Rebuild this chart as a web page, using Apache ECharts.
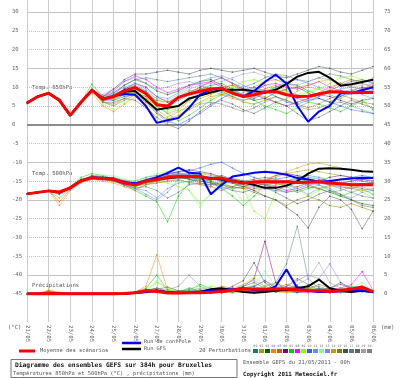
<!DOCTYPE html>
<html>
<head>
<meta charset="utf-8">
<script src="https://cdn.jsdelivr.net/npm/echarts@6/dist/echarts.min.js"></script>
<style>
  html, body { margin: 0; padding: 0; background: #fff; }
  #chart { width: 400px; height: 378px; }
</style>
</head>
<body>
<div id="chart"></div>
<script>
// échéances (heures depuis le 21/05/2011 00h)
const hours = [0, 12, 24, 36, 48, 60, 72, 84, 96, 108, 120, 132, 144, 156, 168, 180, 192,
  204, 216, 228, 240, 252, 264, 276, 288, 300, 312, 324, 336, 348, 360, 372, 384];
const dateLabels = ['21/05', '22/05', '23/05', '24/05', '25/05', '26/05', '27/05', '28/05', '29/05',
  '30/05', '31/05', '01/06', '02/06', '03/06', '04/06', '05/06', '06/06'];

const yDotted = [25, 20, 10, 5, -5, -15, -25, -30, -35];
const ySolid = [30, 15, -10, -20, -40];
const yThick = [0];
const precipBase = -45; // 0 mm sur l'échelle de droite

const memberColors = ['#008080', '#a0a000', '#006400', '#ff8000', '#d06000', '#800080', '#00d000',
  '#ff00ff', '#80ff00', '#3060ff', '#6090ff', '#80ff80', '#8080ff', '#c0a000', '#808000',
  '#405060', '#508080', '#606060', '#a0a0a0', '#808080'];

// Temp. 850hPa
const t850Mean = [5.8, 7.5, 8.4, 6.5, 2.5, 6.0, 9.2, 6.8, 7.5, 9.0, 9.9, 8.3, 5.3, 5.0, 7.3, 8.2, 8.9, 9.5, 9.7, 8.4, 7.5, 8.0, 8.7, 8.8, 8.0, 7.5, 7.6, 8.2, 8.8, 8.7, 8.5, 8.6, 8.6];
const t850Control = [5.8, 7.5, 8.4, 6.5, 2.5, 6.0, 9.2, 6.8, 7.6, 8.2, 8.0, 5.0, 0.5, 1.2, 1.8, 4.5, 8.0, 9.3, 9.8, 8.4, 7.5, 9.0, 11.4, 13.3, 11.0, 5.0, 0.8, 3.5, 5.0, 8.4, 8.4, 9.2, 10.0];
const t850Gfs = [5.8, 7.5, 8.4, 6.5, 2.5, 6.0, 9.2, 6.8, 7.5, 8.8, 9.0, 6.5, 4.0, 4.5, 5.0, 7.0, 7.8, 8.6, 9.3, 9.3, 9.3, 9.0, 8.5, 9.3, 10.8, 12.8, 13.8, 14.1, 12.5, 10.4, 10.8, 11.4, 12.0];
const t850Members = [
  [5.7, 7.4, 8.5, 6.7, 2.6, 6.2, 9.4, 7.2, 8.0, 9.5, 10.5, 9.0, 6.0, 4.5, 6.5, 8.0, 9.5, 10.5, 11.0, 9.5, 8.0, 7.0, 8.5, 10.0, 11.0, 10.5, 9.0, 8.0, 9.0, 10.5, 11.5, 12.0, 11.0],
  [5.8, 7.6, 8.3, 6.4, 2.3, 5.8, 9.0, 6.5, 7.0, 8.0, 9.0, 7.5, 4.0, 2.0, 3.5, 5.0, 7.0, 8.0, 9.5, 10.5, 9.0, 8.0, 7.5, 6.0, 7.0, 9.0, 10.0, 9.5, 8.0, 7.0, 8.5, 9.5, 10.0],
  [5.9, 7.5, 8.4, 6.6, 2.4, 6.1, 9.5, 7.5, 8.5, 10.5, 12.0, 11.0, 9.0, 8.0, 9.0, 10.5, 11.5, 12.0, 10.5, 9.0, 7.5, 6.5, 7.0, 8.5, 9.5, 10.0, 8.5, 7.0, 6.0, 7.5, 9.0, 10.0, 9.5],
  [5.8, 7.4, 8.6, 6.8, 2.7, 6.0, 8.5, 5.0, 3.5, 5.5, 7.5, 6.0, 3.0, 1.5, 2.5, 4.5, 6.0, 7.5, 8.0, 7.0, 6.5, 7.5, 9.0, 9.5, 8.5, 7.0, 6.0, 7.5, 9.5, 11.0, 10.0, 9.5, 11.0],
  [5.7, 7.5, 8.3, 6.3, 2.4, 5.9, 9.1, 6.0, 5.5, 7.0, 8.5, 7.5, 5.5, 4.0, 5.0, 6.5, 8.0, 9.0, 10.0, 10.5, 9.5, 8.5, 9.5, 10.5, 9.0, 8.0, 7.5, 8.5, 10.0, 11.0, 12.0, 11.5, 12.0],
  [5.8, 7.6, 8.5, 6.6, 2.5, 6.3, 9.6, 7.0, 7.5, 9.5, 11.0, 10.0, 7.5, 6.0, 7.0, 8.5, 10.0, 11.5, 12.5, 11.0, 9.5, 8.0, 7.0, 6.0, 5.0, 6.0, 7.0, 8.0, 7.5, 6.5, 5.5, 6.5, 7.0],
  [5.8, 7.3, 8.4, 6.5, 2.6, 6.1, 10.8, 7.5, 6.5, 8.0, 9.5, 8.0, 5.0, 3.0, 1.0, 2.5, 4.5, 6.5, 8.0, 9.0, 8.0, 6.5, 5.0, 4.0, 3.0, 4.5, 6.0, 5.5, 4.5, 3.5, 5.0, 6.5, 4.0],
  [5.9, 7.5, 8.5, 6.5, 2.6, 6.0, 9.3, 7.5, 9.0, 11.5, 13.0, 12.0, 10.0, 8.5, 9.5, 10.5, 11.0, 11.5, 10.0, 8.5, 8.0, 9.0, 10.5, 11.0, 10.0, 9.5, 10.5, 11.5, 10.0, 9.0, 8.5, 9.5, 10.5],
  [5.8, 7.5, 8.3, 6.4, 2.3, 5.9, 9.2, 6.0, 5.0, 7.0, 9.0, 8.5, 7.0, 5.0, 3.5, 4.5, 6.0, 7.0, 8.5, 10.0, 11.5, 12.0, 11.0, 9.5, 8.5, 7.5, 8.5, 9.5, 11.0, 12.5, 13.0, 12.0, 11.5],
  [5.7, 7.5, 8.4, 6.5, 2.5, 6.0, 9.1, 6.5, 6.5, 7.5, 8.0, 6.5, 3.5, 1.0, 0.0, 1.5, 3.0, 5.0, 7.0, 8.5, 9.5, 10.0, 9.0, 7.5, 6.0, 5.5, 6.5, 7.0, 6.0, 5.0, 4.0, 3.5, 3.0],
  [5.8, 7.6, 8.5, 6.7, 2.6, 6.2, 9.3, 7.0, 8.5, 10.0, 11.0, 9.5, 7.5, 7.0, 8.5, 10.0, 11.5, 12.5, 13.0, 12.0, 10.5, 9.5, 9.0, 10.0, 11.5, 12.0, 11.0, 10.0, 9.0, 8.5, 9.5, 8.0, 7.0],
  [5.8, 7.4, 8.4, 6.4, 2.5, 5.9, 9.6, 5.5, 4.0, 6.0, 8.0, 7.0, 4.5, 3.5, 4.5, 6.0, 7.5, 8.5, 9.0, 8.0, 6.5, 5.0, 4.0, 5.5, 7.0, 8.0, 9.0, 9.5, 8.0, 6.0, 5.0, 6.0, 7.5],
  [5.9, 7.5, 8.5, 6.6, 2.6, 6.1, 9.4, 8.0, 9.5, 11.5, 12.5, 11.0, 9.5, 10.0, 11.0, 11.5, 10.5, 9.5, 8.5, 7.5, 6.5, 7.0, 8.5, 9.5, 8.0, 7.0, 6.5, 7.5, 8.5, 9.5, 10.0, 9.5, 9.0],
  [5.7, 7.5, 8.3, 6.4, 2.5, 6.0, 9.0, 6.5, 7.0, 8.0, 8.5, 7.0, 5.0, 3.0, 4.0, 6.5, 8.5, 9.0, 8.0, 7.5, 8.5, 10.0, 11.5, 12.0, 11.0, 10.0, 10.5, 11.5, 12.0, 11.0, 10.5, 11.0, 12.5],
  [5.8, 7.5, 8.4, 6.5, 2.4, 6.0, 9.2, 7.0, 7.5, 8.5, 9.5, 8.0, 6.5, 6.0, 7.5, 9.0, 9.5, 10.0, 9.0, 7.5, 6.0, 5.5, 6.5, 7.5, 6.5, 5.5, 4.5, 5.5, 7.0, 8.0, 7.0, 6.0, 5.5],
  [5.8, 7.5, 8.5, 6.6, 2.5, 6.1, 9.2, 7.5, 9.5, 12.0, 13.5, 13.5, 14.0, 14.5, 14.0, 13.5, 14.5, 15.0, 14.5, 14.0, 14.5, 15.0, 14.0, 13.0, 12.5, 13.5, 14.5, 15.5, 15.0, 14.0, 13.5, 14.5, 15.5],
  [5.9, 7.6, 8.4, 6.5, 2.6, 6.0, 9.3, 7.0, 8.0, 10.5, 12.0, 12.5, 12.0, 11.5, 12.0, 12.5, 13.0, 13.5, 12.5, 11.0, 10.0, 11.0, 12.5, 13.5, 13.0, 12.0, 11.5, 12.5, 13.5, 13.0, 12.0, 11.0, 10.0],
  [5.8, 7.4, 8.3, 6.4, 2.4, 5.9, 9.0, 6.0, 6.0, 7.0, 6.5, 4.5, 2.0, 0.0, -1.0, 1.0, 3.5, 5.5, 6.5, 5.5, 4.0, 3.0, 4.5, 6.0, 5.0, 3.0, 1.0, 2.0, 3.5, 5.0, 6.5, 5.5, 4.5],
  [5.7, 7.5, 8.4, 6.5, 2.5, 6.0, 9.2, 6.8, 7.5, 9.0, 10.0, 9.0, 7.0, 6.5, 8.0, 9.5, 10.5, 11.0, 11.5, 12.5, 13.5, 14.0, 13.0, 12.0, 11.0, 10.5, 11.5, 12.5, 12.0, 11.0, 10.0, 10.5, 11.0],
  [5.8, 7.5, 8.4, 6.5, 2.5, 6.0, 9.2, 6.2, 5.0, 6.5, 8.0, 6.0, 3.0, 0.5, 2.0, 4.0, 5.5, 6.0, 5.5, 4.5, 3.5, 4.5, 6.0, 7.5, 6.5, 5.0, 4.0, 4.5, 5.5, 6.0, 5.0, 4.0, 3.0]
];

// Temp. 500hPa
const t500Mean = [-18.4, -18.0, -17.6, -17.9, -16.8, -14.9, -14.1, -14.3, -14.5, -15.5, -16.0, -15.0, -14.6, -14.0, -13.8, -13.8, -13.8, -14.4, -14.2, -15.0, -15.6, -15.2, -15.2, -15.2, -15.2, -15.4, -15.3, -15.2, -15.5, -15.7, -16.0, -15.9, -16.0];
const t500Control = [-18.4, -18.0, -17.6, -18.0, -16.8, -14.8, -14.0, -14.2, -14.4, -15.3, -15.6, -14.8, -14.0, -12.8, -11.4, -12.8, -13.0, -18.5, -16.0, -13.8, -13.3, -12.8, -12.5, -12.8, -13.3, -14.2, -14.6, -15.2, -15.0, -14.6, -14.3, -14.1, -14.2];
const t500Gfs = [-18.4, -18.0, -17.6, -18.0, -16.8, -14.9, -14.1, -14.3, -14.5, -15.4, -15.9, -15.0, -14.6, -14.2, -14.0, -14.0, -14.0, -14.2, -14.6, -15.0, -15.4, -16.0, -16.8, -16.8, -16.2, -15.0, -13.0, -11.7, -11.6, -11.7, -12.0, -12.4, -12.5];
const t500Members = [
  [-18.4, -18.0, -17.5, -18.5, -16.5, -14.5, -13.8, -14.0, -14.0, -14.8, -15.0, -14.0, -13.5, -13.0, -12.8, -13.2, -13.5, -14.0, -13.5, -14.5, -15.0, -14.5, -14.0, -14.5, -15.0, -14.0, -13.5, -14.0, -15.0, -15.5, -15.0, -14.5, -15.0],
  [-18.4, -18.1, -17.7, -19.5, -17.0, -15.0, -14.0, -14.2, -14.8, -16.0, -17.0, -16.0, -15.0, -14.5, -14.0, -13.5, -13.0, -13.5, -14.0, -15.5, -16.5, -16.0, -15.0, -14.0, -13.0, -12.5, -12.0, -12.5, -13.0, -13.5, -14.0, -14.5, -15.0],
  [-18.4, -18.0, -17.6, -18.0, -16.8, -14.8, -13.5, -13.8, -14.2, -15.0, -16.5, -15.5, -14.5, -13.5, -13.5, -14.0, -14.5, -15.0, -16.0, -17.0, -16.5, -15.5, -16.0, -17.0, -18.0, -17.5, -16.5, -17.0, -18.0, -19.0, -20.0, -21.0, -21.5],
  [-18.4, -17.9, -17.5, -21.5, -17.5, -15.5, -14.5, -15.0, -15.5, -16.5, -17.5, -16.0, -15.5, -15.0, -14.5, -15.5, -16.0, -16.5, -15.5, -15.0, -16.0, -17.5, -17.0, -16.0, -15.5, -15.0, -16.0, -17.0, -16.5, -16.0, -17.0, -17.5, -17.0],
  [-18.4, -18.0, -17.6, -20.5, -17.2, -15.2, -14.3, -14.5, -15.0, -16.0, -16.5, -15.5, -15.0, -14.0, -13.5, -14.5, -15.5, -16.0, -15.5, -16.5, -17.0, -16.5, -15.5, -15.5, -16.0, -16.5, -15.5, -15.0, -15.5, -16.5, -17.0, -16.0, -15.5],
  [-18.4, -18.1, -17.7, -18.2, -17.0, -15.0, -14.2, -14.4, -14.6, -15.2, -15.5, -14.5, -13.8, -13.2, -12.5, -12.0, -12.5, -13.0, -14.0, -14.5, -15.5, -16.0, -15.0, -13.5, -13.0, -13.5, -14.5, -15.0, -14.0, -13.5, -14.0, -15.0, -15.5],
  [-18.4, -18.0, -17.5, -18.0, -16.5, -14.0, -13.0, -13.5, -14.5, -16.0, -17.5, -19.0, -20.5, -25.8, -19.0, -15.5, -14.0, -15.0, -17.0, -19.0, -21.5, -19.0, -16.0, -15.5, -16.5, -18.0, -17.0, -16.0, -17.5, -19.0, -18.0, -17.0, -18.5],
  [-18.4, -18.0, -17.6, -17.9, -16.7, -14.6, -13.9, -14.0, -14.3, -15.0, -15.8, -15.0, -14.0, -13.5, -13.0, -13.5, -14.0, -14.5, -14.0, -14.5, -15.0, -15.5, -16.0, -16.5, -17.5, -17.0, -16.0, -15.5, -16.0, -15.5, -15.0, -14.5, -15.0],
  [-18.4, -18.0, -17.6, -18.3, -16.9, -15.0, -14.0, -14.3, -14.8, -15.8, -16.5, -15.5, -15.0, -15.5, -16.5, -17.5, -21.0, -18.5, -16.0, -15.5, -17.0, -23.0, -25.0, -18.0, -16.0, -17.0, -19.0, -17.5, -16.0, -15.5, -16.5, -18.0, -19.5],
  [-18.4, -18.0, -17.6, -18.0, -16.8, -14.9, -14.1, -14.3, -14.5, -15.2, -15.5, -14.8, -14.0, -13.0, -12.5, -12.2, -11.5, -10.5, -10.0, -11.5, -13.0, -14.0, -15.0, -14.5, -14.0, -13.5, -14.0, -14.5, -15.0, -14.5, -14.0, -13.5, -14.0],
  [-18.4, -18.1, -17.7, -18.6, -17.3, -15.2, -14.4, -14.6, -15.0, -16.2, -17.0, -17.5, -19.5, -17.0, -15.5, -15.0, -14.5, -15.5, -17.0, -16.5, -15.5, -15.0, -14.5, -15.0, -16.0, -17.0, -18.5, -17.0, -16.0, -16.5, -17.0, -16.5, -17.5],
  [-18.4, -18.0, -17.6, -17.8, -16.5, -14.5, -13.8, -13.5, -13.5, -14.5, -15.0, -14.0, -13.0, -12.5, -14.0, -17.5, -22.0, -18.0, -15.0, -17.0, -20.5, -18.0, -15.5, -14.5, -15.0, -15.5, -14.5, -14.0, -14.5, -15.5, -14.5, -14.0, -15.0],
  [-18.4, -18.0, -17.5, -18.1, -16.8, -14.8, -14.0, -14.2, -14.4, -15.5, -17.0, -18.5, -20.0, -18.0, -14.5, -13.0, -13.5, -14.0, -15.0, -15.5, -16.0, -16.5, -17.0, -17.5, -18.0, -16.5, -15.5, -16.0, -17.0, -18.5, -19.5, -18.0, -17.5],
  [-18.4, -18.0, -17.6, -18.0, -16.9, -15.0, -14.2, -14.4, -14.6, -15.3, -15.8, -14.8, -14.2, -13.8, -13.5, -13.8, -14.2, -14.5, -14.0, -14.5, -15.0, -15.5, -14.5, -13.5, -12.5, -11.5, -10.5, -10.2, -10.8, -11.5, -12.0, -12.5, -12.5],
  [-18.4, -18.0, -17.6, -18.1, -16.8, -14.9, -14.2, -14.5, -14.9, -15.8, -16.2, -15.3, -14.8, -14.2, -14.0, -14.5, -15.0, -15.5, -16.0, -16.5, -17.0, -18.0, -19.0, -20.0, -21.5, -20.0, -19.0, -20.0, -21.5, -22.0, -21.0, -22.0, -23.0],
  [-18.4, -18.0, -17.6, -17.9, -16.7, -14.8, -14.0, -14.2, -14.5, -15.3, -15.8, -14.8, -14.3, -13.6, -13.2, -13.5, -14.0, -14.5, -15.0, -15.5, -16.5, -17.5, -19.0, -20.0, -22.0, -24.0, -27.5, -22.0, -19.0, -20.0, -22.5, -27.7, -23.0],
  [-18.4, -18.0, -17.7, -18.4, -17.0, -15.0, -14.3, -14.6, -15.0, -16.0, -16.8, -16.5, -17.5, -19.5, -18.0, -16.0, -15.5, -16.0, -15.0, -14.5, -15.0, -15.5, -16.0, -15.5, -15.0, -14.5, -15.0, -15.5, -16.0, -17.0, -18.0, -19.0, -19.5],
  [-18.4, -18.0, -17.5, -18.2, -16.6, -14.7, -14.0, -14.3, -14.6, -15.5, -16.0, -15.5, -15.0, -14.5, -14.0, -14.5, -15.0, -15.5, -16.5, -17.5, -18.0, -17.0, -16.5, -18.0, -19.5, -21.0, -20.0, -18.5, -17.5, -18.5, -20.0, -21.5, -22.0],
  [-18.4, -18.0, -17.6, -17.8, -16.6, -14.8, -14.0, -14.1, -14.3, -15.0, -15.5, -14.5, -14.0, -13.5, -13.2, -13.0, -12.8, -13.2, -13.8, -14.2, -14.8, -15.2, -15.8, -16.2, -15.5, -14.8, -14.5, -15.0, -15.8, -16.2, -15.5, -15.0, -15.5],
  [-18.4, -18.0, -17.6, -18.0, -16.8, -14.9, -14.1, -14.3, -14.6, -15.4, -16.2, -15.8, -15.5, -15.0, -14.8, -15.2, -15.8, -16.5, -17.5, -16.5, -15.5, -16.0, -17.0, -17.5, -16.5, -15.5, -16.0, -17.0, -18.0, -17.5, -16.5, -17.0, -17.5]
];

// Précipitations (mm)
const rrMean = [0, 0, 0.1, 0, 0, 0, 0, 0, 0, 0.1, 0.3, 0.8, 0.6, 0.2, 0.2, 0.3, 0.3, 0.4, 0.6, 1.0, 1.3, 1.3, 1.2, 1.3, 1.3, 1.1, 0.9, 0.8, 0.6, 0.9, 1.3, 1.8, 0.5];
const rrControl = [0, 0, 0.2, 0, 0, 0, 0, 0, 0, 0, 0.3, 0.5, 0.8, 0.3, 0.2, 0.3, 0.5, 0.8, 1.0, 1.2, 1.5, 1.0, 0.8, 2.0, 6.5, 1.5, 0.8, 0.5, 0.5, 0.8, 1.0, 0.8, 0.5];
const rrGfs = [0, 0, 0.2, 0, 0, 0, 0, 0, 0, 0, 0.3, 0.5, 0.8, 0.5, 0.3, 0.3, 0.5, 1.2, 1.5, 1.0, 0.5, 0.3, 0.5, 0.8, 1.0, 1.5, 2.0, 3.8, 1.5, 0.8, 0.5, 0.8, 0.5];
const rrMembers = [
  [0, 0, 0.5, 0.2, 0, 0, 0, 0, 0, 0.2, 0.5, 1.0, 1.5, 0.5, 0.2, 0.5, 1.0, 0.5, 0.3, 1.0, 1.5, 2.0, 1.0, 0.5, 1.5, 2.0, 1.0, 0.5, 0.5, 1.0, 2.0, 1.5, 0.5],
  [0, 0, 0.8, 0.3, 0, 0, 0, 0, 0, 0, 0.2, 0.5, 1.0, 0.3, 0, 0.2, 0.5, 1.0, 0.5, 0.2, 0.5, 1.0, 2.0, 3.0, 1.5, 0.5, 0.5, 1.0, 1.5, 0.5, 0.3, 1.0, 0.5],
  [0, 0, 0.3, 0, 0, 0, 0, 0, 0, 0, 0.3, 1.2, 0.8, 0.2, 0.5, 1.5, 0.8, 0.3, 0.5, 1.5, 1.0, 0.5, 0.8, 1.2, 0.6, 0.3, 0.8, 1.5, 1.0, 0.5, 0.8, 1.2, 0.5],
  [0, 0, 1.0, 0.4, 0, 0, 0, 0, 0, 0, 0.5, 2.0, 10.4, 1.0, 0.3, 0.5, 0.8, 0.5, 0.3, 0.5, 0.8, 1.5, 1.0, 0.5, 0.3, 0.8, 1.5, 1.0, 0.5, 0.3, 0.8, 1.5, 0.5],
  [0, 0, 0.6, 0.2, 0, 0, 0, 0, 0, 0, 0.2, 0.8, 1.5, 0.5, 0.2, 0.3, 0.5, 1.0, 2.0, 1.5, 0.5, 0.3, 0.5, 1.5, 2.5, 1.5, 0.8, 0.5, 1.0, 1.5, 1.0, 2.0, 1.0],
  [0, 0, 0.2, 0, 0, 0, 0, 0, 0, 0, 0.2, 0.5, 0.8, 0.3, 0.2, 0.5, 0.3, 0.2, 0.5, 1.0, 2.0, 4.0, 14.0, 3.0, 1.0, 0.5, 0.8, 0.5, 0.3, 0.5, 1.0, 0.8, 0.5],
  [0, 0, 0.3, 0.1, 0, 0, 0, 0, 0, 0, 0.5, 1.5, 5.0, 1.0, 0.5, 1.0, 2.5, 1.5, 0.8, 0.5, 1.0, 1.5, 0.8, 0.5, 1.0, 2.0, 1.5, 1.0, 0.5, 0.8, 1.5, 1.0, 0.5],
  [0, 0, 0.2, 0, 0, 0, 0, 0, 0, 0, 0.1, 0.3, 0.5, 0.3, 0.2, 0.3, 0.5, 0.3, 0.5, 0.8, 0.5, 0.3, 0.5, 1.0, 0.8, 0.5, 0.3, 0.5, 1.0, 1.5, 2.5, 5.9, 1.0],
  [0, 0, 0.4, 0.2, 0, 0, 0, 0, 0, 0, 0.3, 1.0, 3.0, 1.5, 0.8, 0.5, 1.0, 2.0, 1.5, 1.0, 2.5, 4.5, 2.0, 1.0, 0.5, 1.0, 1.5, 0.8, 0.5, 1.0, 2.0, 1.5, 1.0],
  [0, 0, 0.2, 0, 0, 0, 0, 0, 0, 0, 0.2, 0.5, 0.8, 0.5, 0.3, 0.2, 0.5, 1.0, 0.8, 0.5, 1.0, 2.0, 3.5, 1.5, 0.8, 0.5, 1.0, 0.8, 0.5, 0.3, 0.5, 0.8, 0.3],
  [0, 0, 0.3, 0.1, 0, 0, 0, 0, 0, 0, 0.2, 0.6, 1.0, 0.4, 0.2, 0.3, 0.5, 0.8, 1.5, 1.0, 0.5, 0.8, 1.0, 2.0, 6.3, 2.0, 0.8, 0.5, 0.3, 0.5, 0.8, 0.5, 0.3],
  [0, 0, 0.3, 0.1, 0, 0, 0, 0, 0, 0, 0.3, 1.0, 3.5, 1.0, 0.5, 1.5, 2.0, 1.5, 1.0, 0.8, 1.5, 2.5, 6.0, 2.0, 1.0, 0.8, 1.5, 1.0, 0.5, 1.0, 1.5, 3.0, 1.0],
  [0, 0, 0.2, 0, 0, 0, 0, 0, 0, 0, 0.2, 0.5, 1.0, 0.5, 0.3, 0.5, 0.8, 0.5, 0.3, 0.5, 1.0, 0.8, 0.5, 1.0, 2.0, 3.5, 5.0, 4.0, 8.0, 3.0, 1.0, 0.8, 0.5],
  [0, 0, 0.9, 0.3, 0, 0, 0, 0, 0, 0, 0.3, 0.8, 1.2, 0.5, 0.3, 0.5, 0.8, 0.5, 0.3, 0.5, 0.8, 1.0, 1.5, 1.0, 0.8, 1.2, 1.5, 1.0, 0.8, 0.5, 0.8, 1.0, 0.5],
  [0, 0, 0.5, 0.2, 0, 0, 0, 0, 0, 0, 0.2, 0.5, 0.8, 0.3, 0.2, 0.4, 0.6, 0.4, 0.8, 1.5, 1.0, 0.8, 1.2, 1.5, 1.0, 0.8, 1.5, 2.5, 1.5, 1.0, 0.8, 1.2, 0.8],
  [0, 0, 0.3, 0.1, 0, 0, 0, 0, 0, 0, 0.3, 0.8, 1.0, 0.5, 0.8, 1.0, 0.5, 0.3, 0.8, 2.0, 3.5, 8.3, 3.0, 1.0, 1.5, 2.0, 1.0, 0.8, 1.5, 3.0, 1.5, 0.8, 0.5],
  [0, 0, 0.2, 0, 0, 0, 0, 0, 0, 0, 0.2, 0.6, 1.0, 0.5, 0.3, 0.5, 0.8, 0.5, 0.3, 0.8, 1.5, 1.0, 0.8, 3.0, 8.0, 18.0, 4.0, 1.5, 1.0, 0.8, 1.0, 1.5, 0.8],
  [0, 0, 0.4, 0.2, 0, 0, 0, 0, 0, 0, 0.3, 0.8, 1.2, 1.8, 0.8, 0.5, 1.0, 0.8, 0.5, 1.0, 2.0, 3.0, 1.5, 1.0, 2.0, 4.0, 2.5, 1.0, 1.5, 2.5, 1.5, 1.0, 0.5],
  [0, 0, 0.3, 0.1, 0, 0, 0, 0, 0, 0, 0.2, 0.5, 0.8, 0.5, 0.3, 1.0, 1.5, 1.0, 0.8, 1.5, 2.5, 3.5, 2.0, 1.0, 1.5, 2.5, 4.0, 8.3, 3.0, 1.5, 1.0, 0.8, 0.5],
  [0, 0, 0.5, 0.2, 0, 0, 0, 0, 0, 0, 0.3, 0.8, 1.5, 1.0, 2.0, 5.0, 2.0, 1.0, 0.8, 1.0, 1.5, 2.0, 3.5, 2.0, 1.0, 0.8, 1.5, 2.0, 1.0, 0.5, 0.8, 1.0, 0.5]
];

const FONT = 'DejaVu Sans Mono';

function pairs(vals, offset) {
  return hours.map((h, i) => [h, vals[i] + (offset || 0)]);
}

function memberSeries(vals, i, offset) {
  return {
    type: 'line',
    data: pairs(vals, offset),
    symbol: 'circle',
    symbolSize: 1.6,
    z: 2,
    silent: true,
    lineStyle: { color: memberColors[i], width: 0.7, opacity: 0.7 },
    itemStyle: { color: memberColors[i], opacity: 0.8 }
  };
}

function mainSeries(vals, color, width, z, offset) {
  return {
    type: 'line',
    data: pairs(vals, offset),
    showSymbol: false,
    z: z,
    silent: true,
    lineStyle: { color: color, width: width },
    itemStyle: { color: color }
  };
}

const isFive = v => Math.abs(v / 5 - Math.round(v / 5)) < 1e-6;

const series = [];
t850Members.forEach((m, i) => series.push(memberSeries(m, i)));
t500Members.forEach((m, i) => series.push(memberSeries(m, i)));
rrMembers.forEach((m, i) => series.push(memberSeries(m, i, precipBase)));
[[t850Control, t850Gfs, t850Mean, 0], [t500Control, t500Gfs, t500Mean, 0], [rrControl, rrGfs, rrMean, precipBase]]
  .forEach(([c, g, m, off]) => {
    series.push(mainSeries(g, '#000000', 2, 3, off));
    series.push(mainSeries(c, '#0000ff', 2, 4, off));
    series.push(mainSeries(m, '#ff0000', 3, 5, off));
  });

// lignes horizontales de la grille
series[series.length - 1].markLine = {
  silent: true,
  symbol: 'none',
  z: 1,
  animation: false,
  label: { show: false },
  data: [].concat(
    yDotted.map(v => ({ yAxis: v, lineStyle: { type: 'dotted', color: '#c4c4c4', width: 1 } })),
    ySolid.map(v => ({ yAxis: v, lineStyle: { type: 'solid', color: '#c4c4c4', width: 1 } })),
    yThick.map(v => ({ yAxis: v, lineStyle: { type: 'solid', color: '#8c8c8c', width: 2 } }))
  )
};

const yCommon = {
  type: 'value',
  min: -52.5,
  max: 33.2,
  interval: 2.5,
  splitLine: { show: false },
  axisLine: { show: false },
  axisTick: { show: false }
};

const txt = (x, y, s, size, extra) => Object.assign({
  type: 'text', x: x, y: y, silent: true,
  style: Object.assign({ text: s, font: size + 'px "' + FONT + '"', fill: '#555', verticalAlign: 'middle' }, extra || {})
});

const graphic = [
  txt(8, 328, '(°C)', 5.6),
  txt(381, 328, '(mm)', 5.6),
  txt(32, 88, 'Temp. 850hPa', 5.6),
  txt(32, 174, 'Temp. 500hPa', 5.6),
  txt(32, 286, 'Précipitations', 5.6),
  { type: 'line', shape: { x1: 19, y1: 351, x2: 35, y2: 351 }, style: { stroke: '#ff0000', lineWidth: 3 } },
  txt(40, 351, 'Moyenne des scénarios', 5.4),
  { type: 'line', shape: { x1: 122, y1: 343, x2: 141, y2: 343 }, style: { stroke: '#0000ff', lineWidth: 2.5 } },
  txt(144, 342, 'Run de controle', 5.2),
  { type: 'line', shape: { x1: 122, y1: 349, x2: 141, y2: 349 }, style: { stroke: '#000000', lineWidth: 2.5 } },
  txt(144, 348.5, 'Run GFS', 5.2),
  txt(199, 351, '20 Perturbations', 5.4),
  { type: 'rect', shape: { x: 11, y: 359.5, width: 226, height: 18 }, style: { fill: '#fff', stroke: '#777', lineWidth: 1 } },
  txt(15, 365.5, 'Diagramme des ensembles GEFS sur 384h pour Bruxelles', 6.3, { fill: '#111', font: 'bold 6.3px "' + FONT + '"' }),
  txt(13, 373.5, 'Températures 850hPa et 500hPa (°C) , précipitations (mm)', 5.4),
  txt(243, 363, 'Ensemble GEFS du 21/05/2011 - 00h', 5.4),
  txt(243, 374, 'Copyright 2011 Meteociel.fr', 5.8, { fill: '#111', font: 'bold 5.8px "' + FONT + '"' })
];
memberColors.forEach((c, i) => {
  const x = 253 + i * 6;
  graphic.push({ type: 'rect', shape: { x: x, y: 349, width: 5, height: 4 }, style: { fill: c }, silent: true });
  graphic.push(txt(x + 2.5, 346, String(i + 1).padStart(2, '0'), 3.2, { align: 'center', fill: '#666' }));
});

const chart = echarts.init(document.getElementById('chart'), null, { renderer: 'canvas' });
chart.setOption({
  animation: false,
  backgroundColor: '#ffffff',
  grid: { left: 27, right: 27, top: 0, bottom: 56 },
  xAxis: {
    type: 'value',
    min: 0,
    max: 384,
    interval: 24,
    axisLine: { show: false },
    axisTick: { show: false },
    splitLine: { show: true, lineStyle: { color: '#cccccc', width: 1 } },
    axisLabel: {
      rotate: -90,
      margin: 3,
      fontSize: 5.7,
      fontFamily: FONT,
      color: '#666',
      formatter: v => dateLabels[Math.round(v / 24)] || ''
    }
  },
  yAxis: [
    Object.assign({}, yCommon, {
      position: 'left',
      axisLabel: {
        align: 'left', margin: 15, fontSize: 5.6, fontFamily: FONT, color: '#666',
        formatter: v => (isFive(v) && v >= -45 && v <= 30) ? String(Math.round(v)) : ''
      }
    }),
    Object.assign({}, yCommon, {
      position: 'right',
      axisLabel: {
        align: 'left', margin: 11, fontSize: 5.6, fontFamily: FONT, color: '#666',
        formatter: v => (isFive(v) && v >= -45 && v <= 30) ? String(Math.round(v) + 45) : ''
      }
    })
  ],
  series: series,
  graphic: graphic
});
</script>
</body>
</html>
